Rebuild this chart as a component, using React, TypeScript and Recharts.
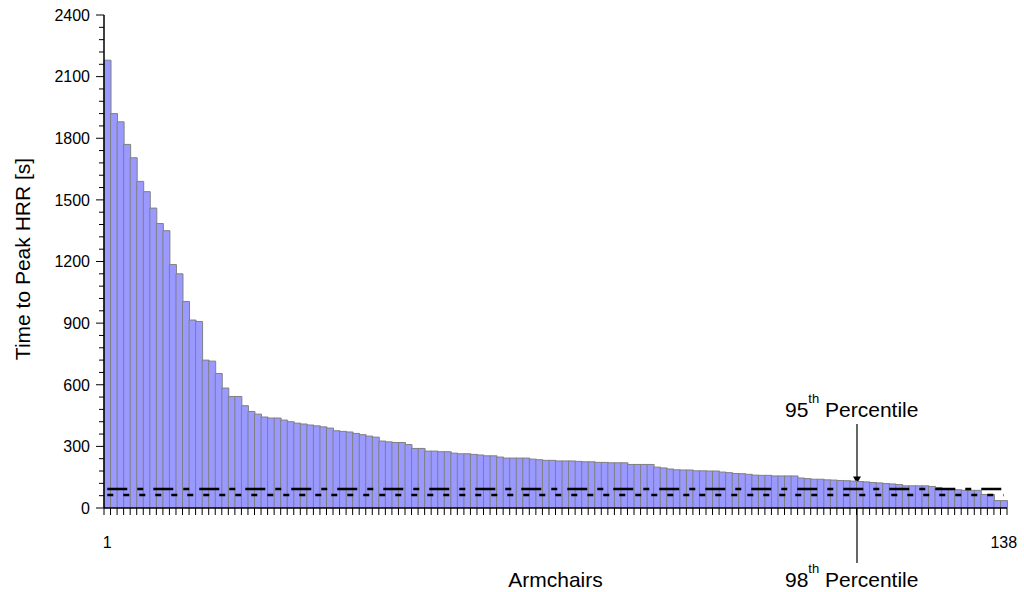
import React from 'react';
import { ComposedChart, Bar, Line, XAxis, YAxis, Customized } from 'recharts';

// Time to peak HRR for 138 armchairs (sorted, descending), seconds
const TIMES: number[] = [
  2180, 1920, 1880, 1770, 1705, 1590, 1540, 1460, 1385, 1350,
  1185, 1140, 1005, 915, 908, 720, 715, 655, 584, 543,
  543, 498, 470, 457, 443, 438, 438, 428, 420, 413,
  409, 404, 400, 395, 389, 376, 373, 370, 363, 357,
  350, 345, 326, 322, 319, 319, 309, 290, 290, 277,
  277, 274, 274, 267, 264, 264, 261, 258, 254, 254,
  248, 243, 243, 243, 243, 238, 235, 232, 232, 229,
  229, 229, 227, 225, 225, 222, 222, 220, 220, 220,
  212, 212, 212, 212, 199, 195, 190, 186, 185, 185,
  181, 181, 180, 180, 175, 172, 168, 167, 164, 160,
  159, 159, 156, 156, 156, 156, 146, 143, 140, 140,
  137, 136, 134, 133, 131, 129, 127, 124, 122, 119,
  117, 114, 108, 108, 108, 108, 105, 100, 95, 92,
  89, 86, 86, 86, 66, 66, 36, 36,
];

const P95 = 93; // 95th percentile line
const P98 = 63; // 98th percentile line

const Y_MAJOR_TICKS = [0, 300, 600, 900, 1200, 1500, 1800, 2100, 2400];
const Y_MINOR_STEP = 60;
const Y_TICKS: number[] = [];
for (let v = 0; v <= 2400; v += Y_MINOR_STEP) Y_TICKS.push(v);

const X_LABELS = [1, TIMES.length];

const data = TIMES.map((t, i) => ({ idx: i + 1, t, p95: P95, p98: P98 }));

const FONT = "'Liberation Sans', Arial, Helvetica, sans-serif";

const XTick = (props: any) => {
  const { x, y, payload } = props;
  const off = payload && typeof payload.offset === 'number' ? payload.offset : 0;
  const v = payload.value;
  const last = v === TIMES.length;
  return (
    <g>
      <line x1={x - off} x2={x - off} y1={y} y2={y + 7} stroke="#000" strokeWidth={1} />
      {last && <line x1={x + off} x2={x + off} y1={y} y2={y + 7} stroke="#000" strokeWidth={1} />}
      {X_LABELS.includes(v) && (
        <text x={x} y={y + 40} textAnchor="middle" fontSize={16} fontFamily={FONT} fill="#000">
          {v}
        </text>
      )}
    </g>
  );
};

const YTick = (props: any) => {
  const { x, y, payload } = props;
  const major = Y_MAJOR_TICKS.includes(payload.value);
  return (
    <g>
      <line x1={x - (major ? 8 : 5)} x2={x} y1={y} y2={y} stroke="#000" strokeWidth={1} />
      {major && (
        <text x={x - 14} y={y} dy="0.36em" textAnchor="end" fontSize={16} fontFamily={FONT} fill="#000">
          {payload.value}
        </text>
      )}
    </g>
  );
};

const Annotations = () => (
  <g fontFamily={FONT} fill="#000">
    <text x={22} y={259} transform="rotate(-90 22 259)" textAnchor="middle" dominantBaseline="central" fontSize={21}>
      Time to Peak HRR [s]
    </text>
    <text x={555.5} y={587} textAnchor="middle" fontSize={21}>Armchairs</text>

    <text x={785} y={417} fontSize={21}>
      <tspan>95</tspan>
      <tspan dy={-14} fontSize={13}>th</tspan>
      <tspan dy={14}> Percentile</tspan>
    </text>
    <line x1={857} x2={857} y1={424} y2={478} stroke="#000" strokeWidth={1.2} />
    <polygon points="853,476.5 861,476.5 857,483.5" fill="#000" />

    <text x={785} y={587} fontSize={21}>
      <tspan>98</tspan>
      <tspan dy={-14} fontSize={13}>th</tspan>
      <tspan dy={14}> Percentile</tspan>
    </text>
    <line x1={857} x2={857} y1={498} y2={563} stroke="#000" strokeWidth={1.2} />
    <polygon points="853,499.5 861,499.5 857,492.5" fill="#000" />
  </g>
);

export default function App() {
  return (
    <div style={{ position: 'absolute', left: 0, top: 0, width: 1024, height: 592, background: '#fff' }}>
      <ComposedChart
        width={1024}
        height={592}
        data={data}
        margin={{ top: 15, right: 17, bottom: 24, left: 44 }}
        barCategoryGap={0}
        barGap={0}
      >
        <XAxis
          dataKey="idx"
          type="category"
          interval={0}
          height={60}
          tickLine={false}
          tickSize={0}
          tickMargin={0}
          tick={<XTick />}
          axisLine={{ stroke: '#000', strokeWidth: 1.5 }}
        />
        <YAxis
          type="number"
          domain={[0, 2400]}
          ticks={Y_TICKS}
          interval={0}
          width={60}
          tickLine={false}
          tickSize={0}
          tickMargin={0}
          tick={<YTick />}
          axisLine={{ stroke: '#000', strokeWidth: 1.5 }}
          allowDataOverflow
        />
        <Bar dataKey="t" fill="#9999ff" stroke="#808080" strokeWidth={1} isAnimationActive={false} />
        <Line
          dataKey="p95"
          stroke="#000"
          strokeWidth={2.5}
          strokeDasharray="20 10 6 10"
          dot={false}
          activeDot={false}
          isAnimationActive={false}
        />
        <Line
          dataKey="p98"
          stroke="#000"
          strokeWidth={2.5}
          strokeDasharray="6 10"
          dot={false}
          activeDot={false}
          isAnimationActive={false}
        />
        <Customized component={Annotations} />
      </ComposedChart>
    </div>
  );
}
